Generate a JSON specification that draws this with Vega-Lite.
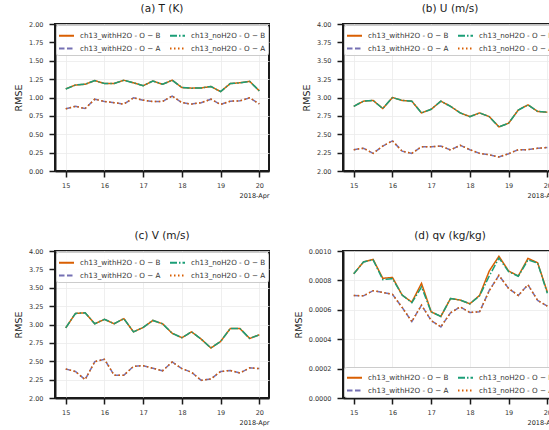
{
  "$schema": "https://vega.github.io/schema/vega-lite/v6.json",
  "padding": {"left": 12, "top": 2, "right": 0, "bottom": 0},
  "background": "white",
  "config": {
    "font": "DejaVu Sans",
    "view": {"stroke": "#1a1a1a", "strokeWidth": 2},
    "axis": {"domainColor": "#1a1a1a", "domainWidth": 2, "tickColor": "#1a1a1a", "tickWidth": 1.5, "tickSize": 6, "labelFontSize": 6.5, "labelColor": "#333333", "gridColor": "#ebebeb", "gridWidth": 0.8, "titleFontWeight": "normal", "titleColor": "#1a1a1a"},
    "axisX": {"titleFontSize": 6.5, "titleAnchor": "end", "titleAlign": "right", "titlePadding": 4, "labelPadding": 5, "labelFlush": false},
    "axisY": {"titleFontSize": 9.5, "titlePadding": 5, "labelPadding": 6},
    "title": {"fontSize": 10.5, "fontWeight": "normal", "offset": 7, "color": "#1a1a1a"},
    "legend": {"orient": "top-left", "columns": 2, "title": null, "symbolType": "stroke", "symbolSize": 225, "symbolStrokeWidth": 2, "labelFontSize": 7.2, "labelOffset": 5, "columnPadding": 5, "rowPadding": -6, "padding": 2, "strokeColor": "#cccccc", "fillColor": "rgba(255,255,255,0.85)", "cornerRadius": 2, "offset": 1, "labelColor": "#333333"}
  },
  "datasets": {
    "T": [
      {"time": "2018-04-15T00:00Z", "wB": 1.118, "nB": 1.115, "wA": 0.846, "nA": 0.846},
      {"time": "2018-04-15T06:00Z", "wB": 1.17, "nB": 1.17, "wA": 0.88, "nA": 0.88},
      {"time": "2018-04-15T12:00Z", "wB": 1.18, "nB": 1.18, "wA": 0.85, "nA": 0.85},
      {"time": "2018-04-15T18:00Z", "wB": 1.23, "nB": 1.23, "wA": 0.977, "nA": 0.977},
      {"time": "2018-04-16T00:00Z", "wB": 1.19, "nB": 1.19, "wA": 0.946, "nA": 0.946},
      {"time": "2018-04-16T06:00Z", "wB": 1.19, "nB": 1.19, "wA": 0.93, "nA": 0.93},
      {"time": "2018-04-16T12:00Z", "wB": 1.235, "nB": 1.235, "wA": 0.91, "nA": 0.91},
      {"time": "2018-04-16T18:00Z", "wB": 1.2, "nB": 1.2, "wA": 0.995, "nA": 0.995},
      {"time": "2018-04-17T00:00Z", "wB": 1.16, "nB": 1.16, "wA": 0.964, "nA": 0.964},
      {"time": "2018-04-17T06:00Z", "wB": 1.225, "nB": 1.225, "wA": 0.946, "nA": 0.946},
      {"time": "2018-04-17T12:00Z", "wB": 1.18, "nB": 1.18, "wA": 0.946, "nA": 0.946},
      {"time": "2018-04-17T18:00Z", "wB": 1.235, "nB": 1.235, "wA": 1.02, "nA": 1.02},
      {"time": "2018-04-18T00:00Z", "wB": 1.135, "nB": 1.135, "wA": 0.93, "nA": 0.93},
      {"time": "2018-04-18T06:00Z", "wB": 1.127, "nB": 1.127, "wA": 0.91, "nA": 0.91},
      {"time": "2018-04-18T12:00Z", "wB": 1.13, "nB": 1.13, "wA": 0.93, "nA": 0.93},
      {"time": "2018-04-18T18:00Z", "wB": 1.15, "nB": 1.15, "wA": 0.977, "nA": 0.977},
      {"time": "2018-04-19T00:00Z", "wB": 1.08, "nB": 1.08, "wA": 0.905, "nA": 0.905},
      {"time": "2018-04-19T06:00Z", "wB": 1.19, "nB": 1.19, "wA": 0.95, "nA": 0.95},
      {"time": "2018-04-19T12:00Z", "wB": 1.2, "nB": 1.2, "wA": 0.955, "nA": 0.955},
      {"time": "2018-04-19T18:00Z", "wB": 1.22, "nB": 1.22, "wA": 0.995, "nA": 0.995},
      {"time": "2018-04-20T00:00Z", "wB": 1.09, "nB": 1.09, "wA": 0.914, "nA": 0.914}
    ],
    "U": [
      {"time": "2018-04-15T00:00Z", "wB": 2.88, "nB": 2.88, "wA": 2.29, "nA": 2.29},
      {"time": "2018-04-15T06:00Z", "wB": 2.95, "nB": 2.95, "wA": 2.31, "nA": 2.31},
      {"time": "2018-04-15T12:00Z", "wB": 2.96, "nB": 2.96, "wA": 2.24, "nA": 2.24},
      {"time": "2018-04-15T18:00Z", "wB": 2.85, "nB": 2.85, "wA": 2.34, "nA": 2.34},
      {"time": "2018-04-16T00:00Z", "wB": 3.0, "nB": 3.0, "wA": 2.41, "nA": 2.41},
      {"time": "2018-04-16T06:00Z", "wB": 2.96, "nB": 2.96, "wA": 2.27, "nA": 2.27},
      {"time": "2018-04-16T12:00Z", "wB": 2.95, "nB": 2.95, "wA": 2.24, "nA": 2.24},
      {"time": "2018-04-16T18:00Z", "wB": 2.79, "nB": 2.79, "wA": 2.33, "nA": 2.33},
      {"time": "2018-04-17T00:00Z", "wB": 2.84, "nB": 2.84, "wA": 2.33, "nA": 2.33},
      {"time": "2018-04-17T06:00Z", "wB": 2.95, "nB": 2.95, "wA": 2.34, "nA": 2.34},
      {"time": "2018-04-17T12:00Z", "wB": 2.88, "nB": 2.88, "wA": 2.285, "nA": 2.285},
      {"time": "2018-04-17T18:00Z", "wB": 2.79, "nB": 2.79, "wA": 2.35, "nA": 2.35},
      {"time": "2018-04-18T00:00Z", "wB": 2.74, "nB": 2.74, "wA": 2.29, "nA": 2.29},
      {"time": "2018-04-18T06:00Z", "wB": 2.79, "nB": 2.79, "wA": 2.24, "nA": 2.24},
      {"time": "2018-04-18T12:00Z", "wB": 2.74, "nB": 2.74, "wA": 2.22, "nA": 2.22},
      {"time": "2018-04-18T18:00Z", "wB": 2.6, "nB": 2.6, "wA": 2.19, "nA": 2.19},
      {"time": "2018-04-19T00:00Z", "wB": 2.65, "nB": 2.65, "wA": 2.235, "nA": 2.235},
      {"time": "2018-04-19T06:00Z", "wB": 2.83, "nB": 2.83, "wA": 2.29, "nA": 2.29},
      {"time": "2018-04-19T12:00Z", "wB": 2.9, "nB": 2.9, "wA": 2.29, "nA": 2.29},
      {"time": "2018-04-19T18:00Z", "wB": 2.81, "nB": 2.81, "wA": 2.31, "nA": 2.31},
      {"time": "2018-04-20T00:00Z", "wB": 2.8, "nB": 2.8, "wA": 2.32, "nA": 2.32}
    ],
    "V": [
      {"time": "2018-04-15T00:00Z", "wB": 2.955, "nB": 2.955, "wA": 2.395, "nA": 2.395},
      {"time": "2018-04-15T06:00Z", "wB": 3.15, "nB": 3.15, "wA": 2.36, "nA": 2.36},
      {"time": "2018-04-15T12:00Z", "wB": 3.16, "nB": 3.16, "wA": 2.25, "nA": 2.25},
      {"time": "2018-04-15T18:00Z", "wB": 3.01, "nB": 3.01, "wA": 2.495, "nA": 2.495},
      {"time": "2018-04-16T00:00Z", "wB": 3.07, "nB": 3.07, "wA": 2.527, "nA": 2.527},
      {"time": "2018-04-16T06:00Z", "wB": 3.01, "nB": 3.01, "wA": 2.31, "nA": 2.31},
      {"time": "2018-04-16T12:00Z", "wB": 3.08, "nB": 3.08, "wA": 2.31, "nA": 2.31},
      {"time": "2018-04-16T18:00Z", "wB": 2.9, "nB": 2.9, "wA": 2.43, "nA": 2.43},
      {"time": "2018-04-17T00:00Z", "wB": 2.96, "nB": 2.96, "wA": 2.44, "nA": 2.44},
      {"time": "2018-04-17T06:00Z", "wB": 3.055, "nB": 3.055, "wA": 2.405, "nA": 2.405},
      {"time": "2018-04-17T12:00Z", "wB": 3.01, "nB": 3.01, "wA": 2.37, "nA": 2.37},
      {"time": "2018-04-17T18:00Z", "wB": 2.88, "nB": 2.88, "wA": 2.49, "nA": 2.49},
      {"time": "2018-04-18T00:00Z", "wB": 2.82, "nB": 2.82, "wA": 2.4, "nA": 2.4},
      {"time": "2018-04-18T06:00Z", "wB": 2.9, "nB": 2.9, "wA": 2.35, "nA": 2.35},
      {"time": "2018-04-18T12:00Z", "wB": 2.8, "nB": 2.8, "wA": 2.24, "nA": 2.24},
      {"time": "2018-04-18T18:00Z", "wB": 2.68, "nB": 2.68, "wA": 2.26, "nA": 2.26},
      {"time": "2018-04-19T00:00Z", "wB": 2.77, "nB": 2.77, "wA": 2.36, "nA": 2.36},
      {"time": "2018-04-19T06:00Z", "wB": 2.945, "nB": 2.945, "wA": 2.375, "nA": 2.375},
      {"time": "2018-04-19T12:00Z", "wB": 2.945, "nB": 2.945, "wA": 2.34, "nA": 2.34},
      {"time": "2018-04-19T18:00Z", "wB": 2.81, "nB": 2.81, "wA": 2.41, "nA": 2.41},
      {"time": "2018-04-20T00:00Z", "wB": 2.86, "nB": 2.86, "wA": 2.4, "nA": 2.4}
    ],
    "QV": [
      {"time": "2018-04-15T00:00Z", "wB": 0.000845, "nB": 0.000845, "wA": 0.000698, "nA": 0.000698},
      {"time": "2018-04-15T06:00Z", "wB": 0.000925, "nB": 0.000925, "wA": 0.000695, "nA": 0.000695},
      {"time": "2018-04-15T12:00Z", "wB": 0.000943, "nB": 0.00094, "wA": 0.00073, "nA": 0.00073},
      {"time": "2018-04-15T18:00Z", "wB": 0.000814, "nB": 0.000805, "wA": 0.000718, "nA": 0.000718},
      {"time": "2018-04-16T00:00Z", "wB": 0.00082, "nB": 0.000812, "wA": 0.000705, "nA": 0.000705},
      {"time": "2018-04-16T06:00Z", "wB": 0.0007, "nB": 0.0007, "wA": 0.000616, "nA": 0.000616},
      {"time": "2018-04-16T12:00Z", "wB": 0.000652, "nB": 0.000648, "wA": 0.00052, "nA": 0.00052},
      {"time": "2018-04-16T18:00Z", "wB": 0.00078, "nB": 0.000755, "wA": 0.000632, "nA": 0.000632},
      {"time": "2018-04-17T00:00Z", "wB": 0.000586, "nB": 0.000586, "wA": 0.000527, "nA": 0.000527},
      {"time": "2018-04-17T06:00Z", "wB": 0.000555, "nB": 0.000555, "wA": 0.000484, "nA": 0.000484},
      {"time": "2018-04-17T12:00Z", "wB": 0.000677, "nB": 0.000677, "wA": 0.00058, "nA": 0.00058},
      {"time": "2018-04-17T18:00Z", "wB": 0.000666, "nB": 0.000666, "wA": 0.00062, "nA": 0.00062},
      {"time": "2018-04-18T00:00Z", "wB": 0.000641, "nB": 0.000641, "wA": 0.000582, "nA": 0.000582},
      {"time": "2018-04-18T06:00Z", "wB": 0.000698, "nB": 0.000695, "wA": 0.000586, "nA": 0.000586},
      {"time": "2018-04-18T12:00Z", "wB": 0.000864, "nB": 0.00083, "wA": 0.000732, "nA": 0.000728},
      {"time": "2018-04-18T18:00Z", "wB": 0.000964, "nB": 0.000952, "wA": 0.000834, "nA": 0.000834},
      {"time": "2018-04-19T00:00Z", "wB": 0.000864, "nB": 0.00086, "wA": 0.000745, "nA": 0.000745},
      {"time": "2018-04-19T06:00Z", "wB": 0.00083, "nB": 0.000828, "wA": 0.000698, "nA": 0.000698},
      {"time": "2018-04-19T12:00Z", "wB": 0.00095, "nB": 0.000939, "wA": 0.00077, "nA": 0.00077},
      {"time": "2018-04-19T18:00Z", "wB": 0.00092, "nB": 0.000918, "wA": 0.000664, "nA": 0.000664},
      {"time": "2018-04-20T00:00Z", "wB": 0.00072, "nB": 0.000712, "wA": 0.000625, "nA": 0.000625}
    ]
  },
  "columns": 2,
  "spacing": {"column": 22, "row": 29},
  "resolve": {
    "scale": {"y": "independent", "color": "independent", "strokeDash": "independent"},
    "legend": {"color": "independent", "strokeDash": "independent"}
  },
  "concat": [
    {
      "title": "(a) T (K)",
      "width": 214, "height": 147,
      "data": {"name": "T"},
      "transform": [{"fold": ["wB", "nB", "wA", "nA"], "as": ["series", "rmse"]}],
      "mark": {"type": "line", "strokeWidth": 1.5},
      "encoding": {
        "x": {"field": "time", "type": "temporal", "scale": {"type": "utc", "domain": [{"year": 2018, "month": 4, "date": 14, "hours": 17, "minutes": 20, "utc": true}, {"year": 2018, "month": 4, "date": 20, "hours": 6, "utc": true}]}, "axis": {"title": "2018-Apr", "format": "%d", "tickCount": {"interval": "day", "step": 1}}},
        "y": {"field": "rmse", "type": "quantitative", "scale": {"domain": [0, 2]}, "axis": {"title": "RMSE", "values": [0, 0.25, 0.5, 0.75, 1, 1.25, 1.5, 1.75, 2], "format": ".2f"}},
        "color": {"field": "series", "type": "nominal", "scale": {"domain": ["wB", "wA", "nB", "nA"], "range": ["#d95f02", "#7570b3", "#1b9e77", "#d95f02"]}, "legend": {"labelExpr": "datum.label == 'wB' ? 'ch13_withH2O - O − B' : datum.label == 'nB' ? 'ch13_noH2O - O − B' : datum.label == 'wA' ? 'ch13_withH2O - O − A' : 'ch13_noH2O - O − A'"}},
        "strokeDash": {"field": "series", "type": "nominal", "scale": {"domain": ["wB", "wA", "nB", "nA"], "range": [[1, 0], [5.5, 2.5], [7, 2, 1.5, 2], [1.5, 2.5]]}, "legend": {"labelExpr": "datum.label == 'wB' ? 'ch13_withH2O - O − B' : datum.label == 'nB' ? 'ch13_noH2O - O − B' : datum.label == 'wA' ? 'ch13_withH2O - O − A' : 'ch13_noH2O - O − A'"}}
      }
    },
    {
      "title": "(b) U (m/s)",
      "width": 214, "height": 147,
      "data": {"name": "U"},
      "transform": [{"fold": ["wB", "nB", "wA", "nA"], "as": ["series", "rmse"]}],
      "mark": {"type": "line", "strokeWidth": 1.5},
      "encoding": {
        "x": {"field": "time", "type": "temporal", "scale": {"type": "utc", "domain": [{"year": 2018, "month": 4, "date": 14, "hours": 17, "minutes": 20, "utc": true}, {"year": 2018, "month": 4, "date": 20, "hours": 6, "utc": true}]}, "axis": {"title": "2018-Apr", "format": "%d", "tickCount": {"interval": "day", "step": 1}}},
        "y": {"field": "rmse", "type": "quantitative", "scale": {"domain": [2, 4]}, "axis": {"title": "RMSE", "values": [2, 2.25, 2.5, 2.75, 3, 3.25, 3.5, 3.75, 4], "format": ".2f"}},
        "color": {"field": "series", "type": "nominal", "scale": {"domain": ["wB", "wA", "nB", "nA"], "range": ["#d95f02", "#7570b3", "#1b9e77", "#d95f02"]}, "legend": {"labelExpr": "datum.label == 'wB' ? 'ch13_withH2O - O − B' : datum.label == 'nB' ? 'ch13_noH2O - O − B' : datum.label == 'wA' ? 'ch13_withH2O - O − A' : 'ch13_noH2O - O − A'"}},
        "strokeDash": {"field": "series", "type": "nominal", "scale": {"domain": ["wB", "wA", "nB", "nA"], "range": [[1, 0], [5.5, 2.5], [7, 2, 1.5, 2], [1.5, 2.5]]}, "legend": {"labelExpr": "datum.label == 'wB' ? 'ch13_withH2O - O − B' : datum.label == 'nB' ? 'ch13_noH2O - O − B' : datum.label == 'wA' ? 'ch13_withH2O - O − A' : 'ch13_noH2O - O − A'"}}
      }
    },
    {
      "title": "(c) V (m/s)",
      "width": 214, "height": 147,
      "data": {"name": "V"},
      "transform": [{"fold": ["wB", "nB", "wA", "nA"], "as": ["series", "rmse"]}],
      "mark": {"type": "line", "strokeWidth": 1.5},
      "encoding": {
        "x": {"field": "time", "type": "temporal", "scale": {"type": "utc", "domain": [{"year": 2018, "month": 4, "date": 14, "hours": 17, "minutes": 20, "utc": true}, {"year": 2018, "month": 4, "date": 20, "hours": 6, "utc": true}]}, "axis": {"title": "2018-Apr", "format": "%d", "tickCount": {"interval": "day", "step": 1}}},
        "y": {"field": "rmse", "type": "quantitative", "scale": {"domain": [2, 4]}, "axis": {"title": "RMSE", "values": [2, 2.25, 2.5, 2.75, 3, 3.25, 3.5, 3.75, 4], "format": ".2f"}},
        "color": {"field": "series", "type": "nominal", "scale": {"domain": ["wB", "wA", "nB", "nA"], "range": ["#d95f02", "#7570b3", "#1b9e77", "#d95f02"]}, "legend": {"labelExpr": "datum.label == 'wB' ? 'ch13_withH2O - O − B' : datum.label == 'nB' ? 'ch13_noH2O - O − B' : datum.label == 'wA' ? 'ch13_withH2O - O − A' : 'ch13_noH2O - O − A'"}},
        "strokeDash": {"field": "series", "type": "nominal", "scale": {"domain": ["wB", "wA", "nB", "nA"], "range": [[1, 0], [5.5, 2.5], [7, 2, 1.5, 2], [1.5, 2.5]]}, "legend": {"labelExpr": "datum.label == 'wB' ? 'ch13_withH2O - O − B' : datum.label == 'nB' ? 'ch13_noH2O - O − B' : datum.label == 'wA' ? 'ch13_withH2O - O − A' : 'ch13_noH2O - O − A'"}}
      }
    },
    {
      "title": "(d) qv (kg/kg)",
      "width": 214, "height": 147,
      "data": {"name": "QV"},
      "transform": [{"fold": ["wB", "nB", "wA", "nA"], "as": ["series", "rmse"]}],
      "mark": {"type": "line", "strokeWidth": 1.5},
      "encoding": {
        "x": {"field": "time", "type": "temporal", "scale": {"type": "utc", "domain": [{"year": 2018, "month": 4, "date": 14, "hours": 17, "minutes": 20, "utc": true}, {"year": 2018, "month": 4, "date": 20, "hours": 6, "utc": true}]}, "axis": {"title": "2018-Apr", "format": "%d", "tickCount": {"interval": "day", "step": 1}}},
        "y": {"field": "rmse", "type": "quantitative", "scale": {"domain": [0, 0.001]}, "axis": {"title": "RMSE", "values": [0, 0.0002, 0.0004, 0.0006, 0.0008, 0.001], "format": ".4f"}},
        "color": {"field": "series", "type": "nominal", "scale": {"domain": ["wB", "wA", "nB", "nA"], "range": ["#d95f02", "#7570b3", "#1b9e77", "#d95f02"]}, "legend": {"orient": "bottom-left", "labelExpr": "datum.label == 'wB' ? 'ch13_withH2O - O − B' : datum.label == 'nB' ? 'ch13_noH2O - O − B' : datum.label == 'wA' ? 'ch13_withH2O - O − A' : 'ch13_noH2O - O − A'"}},
        "strokeDash": {"field": "series", "type": "nominal", "scale": {"domain": ["wB", "wA", "nB", "nA"], "range": [[1, 0], [5.5, 2.5], [7, 2, 1.5, 2], [1.5, 2.5]]}, "legend": {"orient": "bottom-left", "labelExpr": "datum.label == 'wB' ? 'ch13_withH2O - O − B' : datum.label == 'nB' ? 'ch13_noH2O - O − B' : datum.label == 'wA' ? 'ch13_withH2O - O − A' : 'ch13_noH2O - O − A'"}}
      }
    }
  ]
}
